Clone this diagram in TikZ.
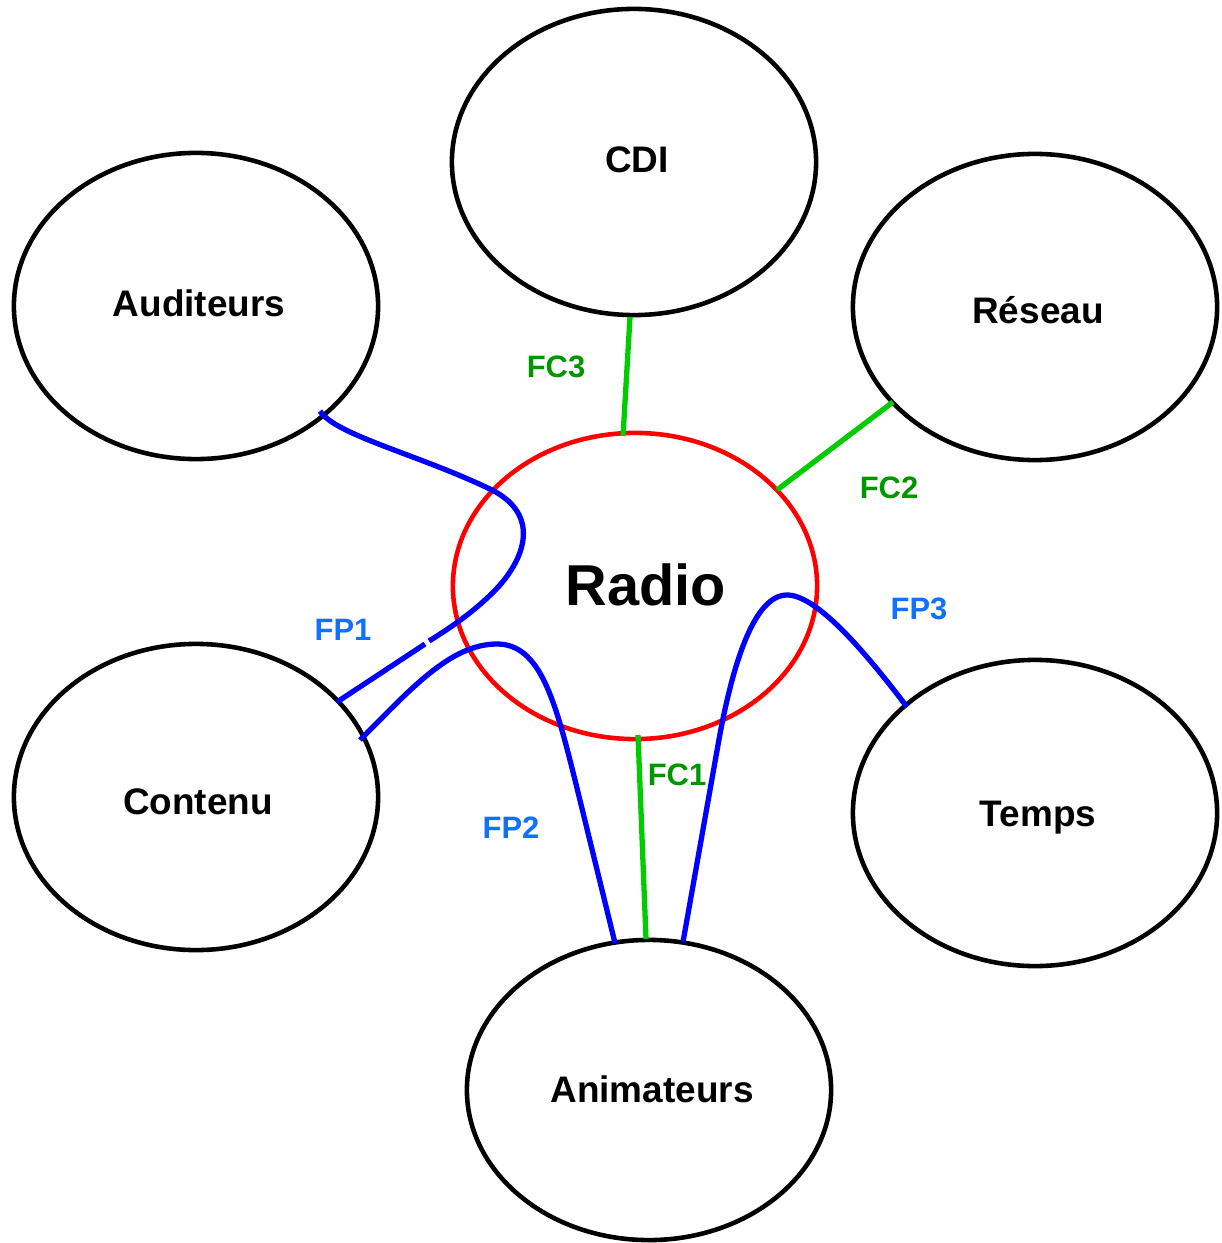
\documentclass[tikz,border=0pt]{standalone}
\usepackage{fontspec}
\setmainfont{Liberation Sans}
\usetikzlibrary{shapes.geometric}
\definecolor{lgreen}{RGB}{0,204,0}
\definecolor{tgreen}{RGB}{0,150,0}
\definecolor{tblue}{RGB}{16,112,255}
\definecolor{lblue}{RGB}{0,0,255}
\begin{document}
\begin{tikzpicture}[x=0.01cm,y=-0.01cm,
  obj/.style={ellipse, draw=black, line width=1.3pt, minimum width=3.64cm, minimum height=3.06cm, inner sep=0pt},
  objtext/.style={font=\bfseries\fontsize{10.5}{12}\selectfont, inner sep=0pt},
  fc/.style={draw=lgreen, line width=1.5pt},
  fp/.style={draw=lblue, line width=1.5pt},
  fclabel/.style={text=tgreen, font=\bfseries\fontsize{8.8}{10}\selectfont, inner sep=0pt},
  fplabel/.style={text=tblue, font=\bfseries\fontsize{8.8}{10}\selectfont, inner sep=0pt}]
\useasboundingbox (0,0) rectangle (1221,1243);

% ellipses
\node[obj] (cdi) at (634,162) {};
\node[obj] (aud) at (196,306) {};
\node[obj] (res) at (1035,307) {};
\node[obj, draw=red] (radio) at (635,586) {};
\node[obj] (cont) at (196,797) {};
\node[obj] (temps) at (1035,813) {};
\node[obj, minimum height=3.0cm] (anim) at (649,1090) {};

% texts
\node[objtext] (tcdi) at (637,160) {CDI};
\node[objtext] (taud) at (199,303) {Auditeurs};
\node[objtext] (tres) at (1038,310) {Réseau};
\node[font=\bfseries\fontsize{16.4}{19}\selectfont, inner sep=0pt] (tradio) at (646,585) {Radio};
\node[objtext] (tcont) at (198,802) {Contenu};
\node[objtext] (ttemps) at (1038,818) {Temps};
\node[objtext] (tanim) at (652,1089) {Animateurs};

% connection points
\coordinate (c3a) at (630,317);
\coordinate (c3b) at (623,436);
\coordinate (c2a) at (893,402);
\coordinate (c2b) at (777,490);
\coordinate (c1a) at (638,735);
\coordinate (c1b) at (646,939);
\coordinate (p1a) at (320,411);
\coordinate (p1b) at (429,641);
\coordinate (p1c) at (425,644);
\coordinate (p1d) at (337,702);
\coordinate (p2a) at (360,740);
\coordinate (p2b) at (615,943);
\coordinate (p3a) at (683,942);
\coordinate (p3b) at (907,707);

% green lines
\draw[fc] (c3a) -- (c3b);
\draw[fc] (c2a) -- (c2b);
\draw[fc] (c1a) -- (c1b);

% blue lines
\draw[fp] (p1a) .. controls (335,435) and (420,455) .. (492,490)
  .. controls (535,512) and (530,550) .. (500,585)
  .. controls (480,607) and (455,625) .. (p1b);
\draw[fp] (p1c) -- (p1d);
\draw[fp] (p2a) .. controls (410,690) and (450,644) .. (497,644)
  .. controls (540,644) and (555,700) .. (575,780) -- (p2b);
\draw[fp] (p3a) -- (718,745) .. controls (733,660) and (755,595) .. (787,595)
  .. controls (815,595) and (860,645) .. (p3b);

% labels
\node[fclabel] (lfc3) at (556,367) {FC3};
\node[fclabel] (lfc2) at (889,488) {FC2};
\node[fclabel] (lfc1) at (677,775) {FC1};
\node[fplabel] (lfp1) at (343,630) {FP1};
\node[fplabel] (lfp2) at (511,828) {FP2};
\node[fplabel] (lfp3) at (919,609) {FP3};
\end{tikzpicture}
\end{document}
